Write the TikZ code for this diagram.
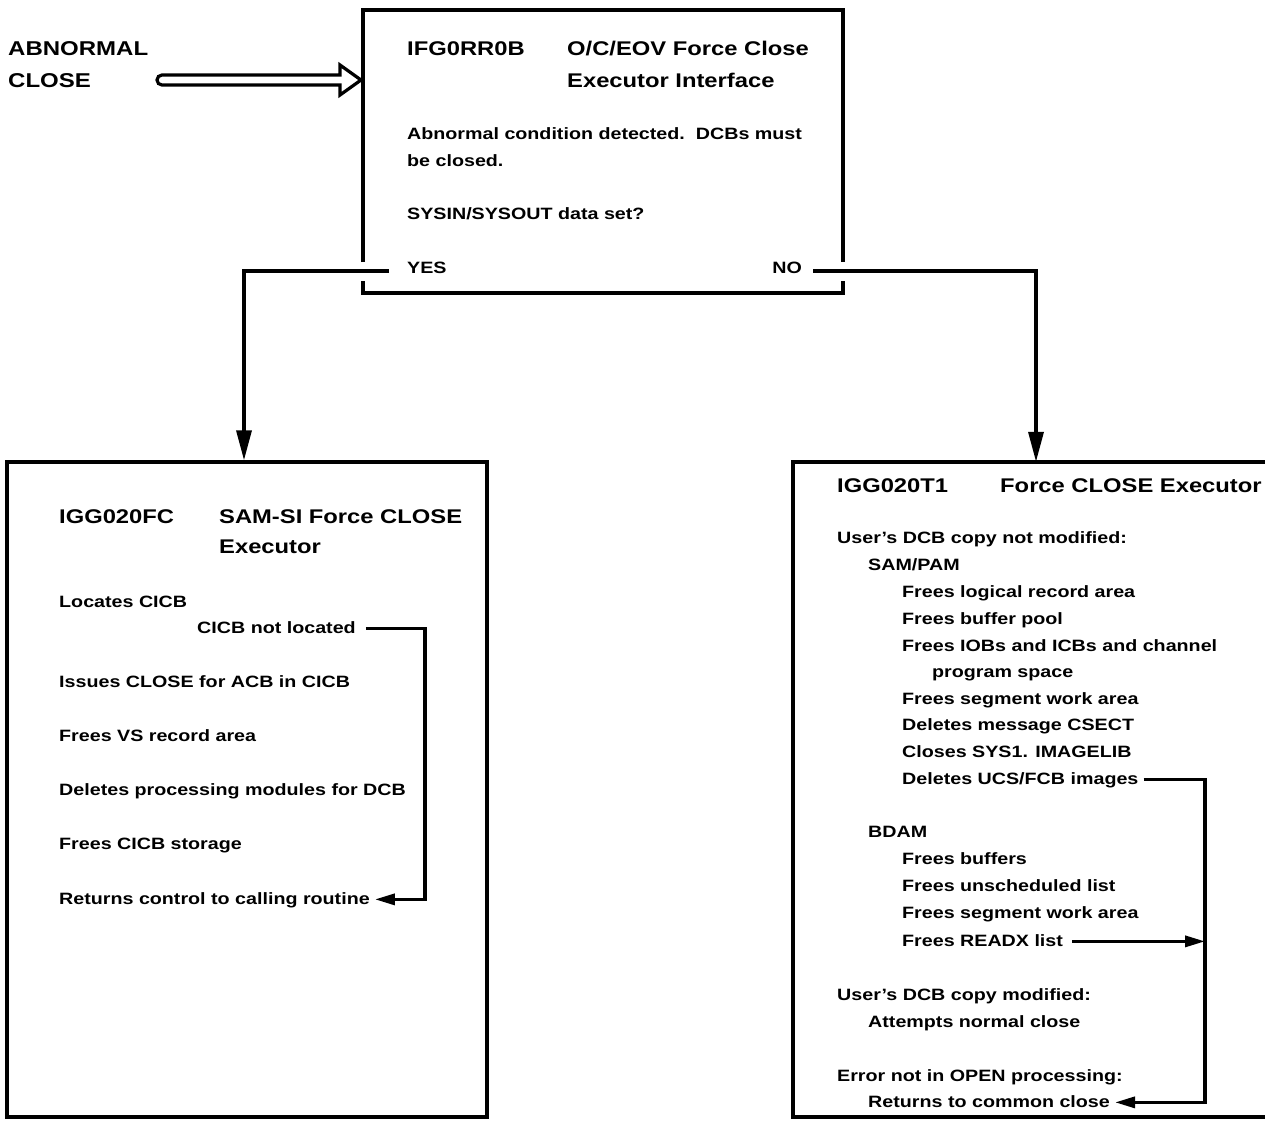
\documentclass[tikz,border=0pt]{standalone}
\usepackage{fontspec}
\setmainfont{Liberation Sans}[FakeStretch=1.2]
\usetikzlibrary{arrows.meta,calc}
\begin{document}
\begin{tikzpicture}[x=1pt,y=-1pt,
  border/.style={line width=3.4pt},
  conn/.style={line width=3.4pt},
  tipD/.style={-{Triangle[length=30pt,width=15pt]}},
  tipL/.style={-{Triangle[length=20pt,width=11pt]}},
  txt/.style={anchor=base west, inner sep=0pt, font=\bfseries\fontsize{16.4}{18}\selectfont},
  ttl/.style={anchor=base west, inner sep=0pt, font=\bfseries\fontsize{19.8}{22}\selectfont},
  big/.style={anchor=base west, inner sep=0pt, font=\bfseries\fontsize{20}{22}\selectfont}]
\useasboundingbox (0,0) rectangle (1265,1120);
\fill[white] (0,0) rectangle (1265,1120);

% ---- abnormal close ----
\node[big] (abn) at (8,55) {ABNORMAL};
\node[big] (cls) at (8,87) {CLOSE};
\draw[line width=3.2pt, line join=miter] (340,75) -- (340,65) -- (361,80) -- (340,95) -- (340,85) -- (162,85)
   arc[start angle=90, end angle=270, radius=5] -- cycle;

% ---- top box ----
\node[minimum width=480pt, minimum height=283pt, inner sep=0pt] (topbox) at (603,151.5) {};
\draw[border] (363,262) -- (363,10) -- (843,10) -- (843,262);
\draw[border] (363,281) -- (363,293) -- (843,293) -- (843,281);
\node[ttl] (t1id) at (407,55) {IFG0RR0B};
\node[ttl] (t1a) at (567,55) {O/C/EOV Force Close};
\node[ttl] (t1b) at (567,87) {Executor Interface};
\node[txt] (t1c) at (407,139) {Abnormal condition detected.\ \ DCBs must};
\node[txt] (t1d) at (407,166) {be closed.};
\node[txt] (t1e) at (407,219) {SYSIN/SYSOUT data set?};
\node[txt] (yes) at (407,273) {YES};
\node[txt, anchor=base east] (no) at (802,273) {NO};

% ---- left box ----
\node[draw, line width=3.4pt, minimum width=480pt, minimum height=655pt, inner sep=0pt] (lbox) at (247,789.5) {};
\node[ttl] (l1id) at (59,523) {IGG020FC};
\node[ttl] (l1a) at (219,523) {SAM-SI Force CLOSE};
\node[ttl] (l1b) at (219,553) {Executor};
\node[txt] (loc) at (59,607) {Locates CICB};
\node[txt] (cnl) at (197,633) {CICB not located};
\node[txt] (iss) at (59,687) {Issues CLOSE for ACB in CICB};
\node[txt] (fvs) at (59,741) {Frees VS record area};
\node[txt] (dpm) at (59,795) {Deletes processing modules for DCB};
\node[txt] (fcs) at (59,849) {Frees CICB storage};
\node[txt] (ret) at (59,904) {Returns control to calling routine};

% ---- right box ----
\node[minimum width=480pt, minimum height=655pt, inner sep=0pt] (rbox) at (1033,789.5) {};
\draw[border] (1268,462) -- (793,462) -- (793,1117) -- (1268,1117);
\node[ttl] (r1id) at (837,492) {IGG020T1};
\node[ttl] (r1a) at (1000,492) {Force CLOSE Executor};
\node[txt] (unm) at (837,543) {User’s DCB copy not modified:};
\node[txt] (sam) at (868,570) {SAM/PAM};
\node[txt] (flr) at (902,597) {Frees logical record area};
\node[txt] (fbp) at (902,624) {Frees buffer pool};
\node[txt] (fio) at (902,651) {Frees IOBs and ICBs and channel};
\node[txt] (prs) at (932,677) {program space};
\node[txt] (fsw) at (902,704) {Frees segment work area};
\node[txt] (dmc) at (902,730) {Deletes message CSECT};
\node[txt] (csy) at (902,757) {Closes SYS1. IMAGELIB};
\node[txt] (dimg) at (902,784) {Deletes UCS/FCB images};
\node[txt] (bdam) at (868,837) {BDAM};
\node[txt] (fbu) at (902,864) {Frees buffers};
\node[txt] (ful) at (902,891) {Frees unscheduled list};
\node[txt] (fsw2) at (902,918) {Frees segment work area};
\node[txt] (readx) at (902,946) {Frees READX list};
\node[txt] (umd) at (837,1000) {User’s DCB copy modified:};
\node[txt] (anc) at (868,1027) {Attempts normal close};
\node[txt] (err) at (837,1081) {Error not in OPEN processing:};
\node[txt] (ret2) at (868,1107) {Returns to common close};

% ---- connectors ----
\coordinate (ys) at (389,271);
\coordinate (yc) at (244,271);
\coordinate (ns) at (813,271);
\coordinate (nc) at (1036,271);
\draw[conn, tipD] (ys) -- (yc) -- (yc |- lbox.north);
\draw[conn, tipD] (ns) -- (nc) -- (nc |- rbox.north);

\coordinate (lv) at (425,0);
\coordinate (la) at ([xshift=10pt,yshift=2pt]cnl.mid east);
\coordinate (lb) at ([xshift=5pt,yshift=2pt]ret.mid east);
\draw[conn, tipL] (la) -| (lv |- lb) -- (lb);

\coordinate (rv) at (1205,0);
\coordinate (ra) at ([xshift=5pt,yshift=2pt]dimg.mid east);
\coordinate (rb) at ([xshift=5pt,yshift=2pt]ret2.mid east);
\coordinate (rx) at ([xshift=9pt,yshift=2pt]readx.mid east);
\draw[conn, tipL] (ra) -| (rv |- rb) -- (rb);
\draw[conn, tipL] (rx) -- (rv |- rx);
\end{tikzpicture}
\end{document}
